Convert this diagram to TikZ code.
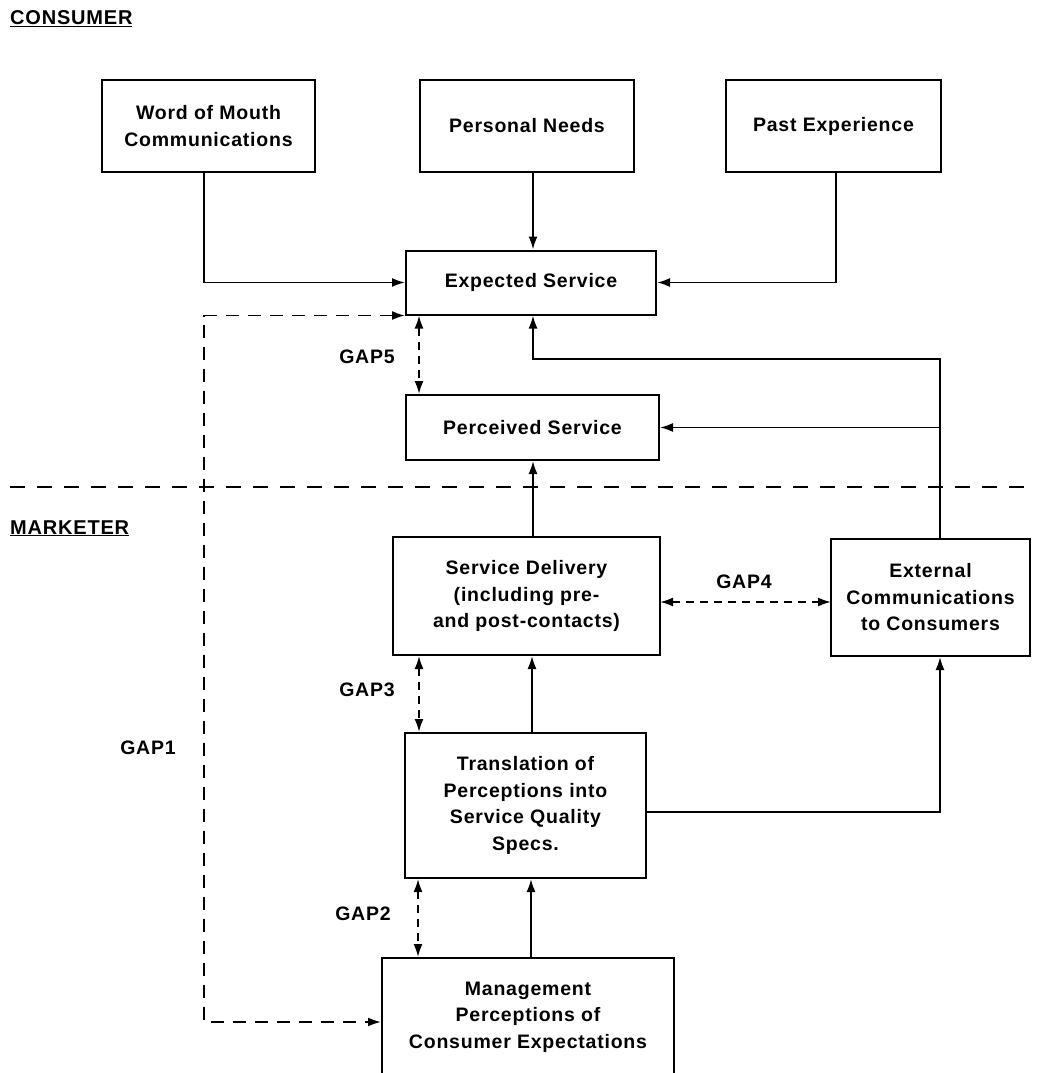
\documentclass[tikz,border=0pt]{standalone}
\usepackage{fontspec}
\setmainfont{Liberation Sans}[LetterSpace=4]
\usetikzlibrary{arrows.meta}
\tikzset{
  box/.style={draw, line width=2pt, align=center, inner sep=0pt, font=\fontsize{19.5}{26.5}\selectfont\bfseries},
  lbl/.style={inner sep=0pt, font=\fontsize{19.5}{26.5}\selectfont\bfseries},
  arr/.style={line width=1.9pt, -{Latex[length=13pt,width=9pt]}},
  gaparr/.style={line width=1.9pt, dash pattern=on 8pt off 6pt, {Latex[length=13pt,width=9pt]}-{Latex[length=13pt,width=9pt]}},
  gapone/.style={line width=1.9pt, dash pattern=on 13pt off 9pt, {Latex[length=13pt,width=9pt]}-{Latex[length=13pt,width=9pt]}},
  divider/.style={line width=1.9pt, dash pattern=on 15pt off 12pt}
}
\begin{document}
\begin{tikzpicture}[x=1pt,y=-1pt]
\useasboundingbox[fill=white] (0,0) rectangle (1038,1073);

% headings
\node[lbl, anchor=base west, font=\fontsize{20}{26}\selectfont\bfseries] (cons) at (10,25) {\underline{CONSUMER}};
\node[lbl, anchor=base west, font=\fontsize{20}{26}\selectfont\bfseries] (mark) at (10,534) {\underline{MARKETER}};

% boxes
\node[box, minimum width=213pt, minimum height=92pt] (wom) at (208.5,126) {Word of Mouth\\Communications};
\node[box, minimum width=214pt, minimum height=92pt] (pn) at (527,126) {Personal Needs};
\node[box, minimum width=215pt, minimum height=92pt] (pe) at (833.5,126) {Past Experience};
\node[box, minimum width=250pt, minimum height=64pt] (es) at (531,282.5) {Expected Service};
\node[box, minimum width=253pt, minimum height=65pt] (ps) at (532.5,427.5) {Perceived Service};
\node[box, minimum width=267pt, minimum height=118pt] (sd) at (526.5,596) {Service Delivery\\(including pre-\\and post-contacts)};
\node[box, minimum width=199pt, minimum height=117pt] (ec) at (930.5,597.5) {External\\Communications\\to Consumers};
\node[box, minimum width=241pt, minimum height=145pt] (tr) at (525.5,805.5) {Translation of\\Perceptions into\\Service Quality\\Specs.};
\node[box, minimum width=292pt, minimum height=118pt] (mg) at (528,1017) {Management\\Perceptions of\\Consumer Expectations};

% divider
\coordinate (dl) at (10,487);
\coordinate (dr) at (1030,487);
\draw[divider] (dl) -- (dr);

% solid connectors
\coordinate (womb) at (204,172);
\draw[arr] (womb) |- (es.west);
\coordinate (esj) at (533,359);
\draw[arr] (pn.south -| esj) -- (es.north -| esj);
\coordinate (peb) at (836,172);
\draw[arr] (peb) |- (es.east);
\coordinate (j1) at (940,359);
\draw[arr] (ec.north -| j1) -- (j1) -- (esj) -- (es.south -| esj);
\draw[arr] (j1 |- ps.east) -- (ps.east);
\draw[arr] (sd.north -| esj) -- (ps.south -| esj);
\draw[arr] (tr.north -| 532,0) -- (sd.south -| 532,0);
\coordinate (trr) at (646,812);
\draw[arr] (trr) -| (ec.south -| j1);
\draw[arr] (mg.north -| 531,0) -- (tr.south -| 531,0);

% gaps
\draw[gaparr] (es.south -| 419,0) -- (ps.north -| 419,0);
\node[lbl] (g5) at (367,357) {GAP5};
\coordinate (sde) at (660,602);
\coordinate (ecw) at (831,602);
\draw[gaparr] (sde) -- (ecw);
\node[lbl] (g4) at (744,582) {GAP4};
\draw[gaparr] (sd.south -| 419,0) -- (tr.north -| 419,0);
\node[lbl] (g3) at (367,690) {GAP3};
\draw[gaparr] (tr.south -| 418,0) -- (mg.north -| 418,0);
\node[lbl] (g2) at (363,914) {GAP2};
\coordinate (g1c) at (204,1022);
\draw[gapone] (es.south west) -- (es.south west -| g1c) -- (g1c) -- (mg.west |- g1c);
\node[lbl] (g1) at (148,748) {GAP1};
\end{tikzpicture}
\end{document}
